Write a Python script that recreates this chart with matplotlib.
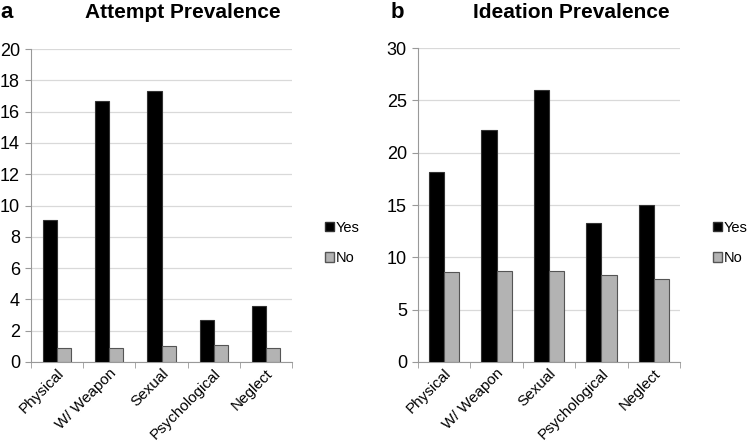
import numpy as np
import matplotlib.pyplot as plt
from matplotlib.patches import Patch

plt.rcParams['font.family'] = ['Liberation Sans', 'DejaVu Sans']

categories = ["Physical", "W/ Weapon", "Sexual", "Psychological", "Neglect"]

# Panel a: attempt prevalence
attempt_yes = [9.1, 16.7, 17.3, 2.7, 3.6]
attempt_no = [0.9, 0.9, 1.0, 1.1, 0.9]

# Panel b: ideation prevalence
ideation_yes = [18.2, 22.2, 26.0, 13.3, 15.0]
ideation_no = [8.6, 8.7, 8.7, 8.3, 7.9]

W, H = 747, 445
fig = plt.figure(figsize=(W / 100, H / 100), dpi=100)


def panel(rect, yes, no, ymax, ystep, bw, title, letter, title_x, letter_x, leg_x):
    ax = fig.add_axes(rect)
    x = np.arange(len(categories))
    ax.bar(x - bw / 2, yes, bw, color="black", edgecolor="#333333", linewidth=0.8, zorder=3)
    ax.bar(x + bw / 2, no, bw, color="#b3b3b3", edgecolor="#555555", linewidth=0.8, zorder=3)
    ax.set_xlim(-0.5, len(categories) - 0.5)
    ax.set_ylim(0, ymax)
    ax.set_yticks(np.arange(0, ymax + 0.1, ystep))
    ax.yaxis.grid(True, color="#d9d9d9", linewidth=0.9, zorder=0)
    ax.tick_params(axis="y", labelsize=13, length=4, color="#999999", pad=4)
    ax.set_xticks(x)
    ax.set_xticklabels(categories, rotation=45, ha="right",
                       rotation_mode="anchor", fontsize=11)
    ax.tick_params(axis="x", which="major", length=0, pad=3)
    ax.set_xticks(np.arange(-0.5, len(categories)), minor=True)
    ax.tick_params(axis="x", which="minor", length=4, color="#999999")
    for s in ["top", "right"]:
        ax.spines[s].set_visible(False)
    for s in ["left", "bottom"]:
        ax.spines[s].set_color("#999999")
    fig.text(title_x / W, 1 - 12 / H, title, fontsize=15, fontweight="bold", ha="center", va="center")
    fig.text(letter_x / W, 1 - 12 / H, letter, fontsize=16, fontweight="bold", ha="center", va="center")
    handles = [Patch(facecolor="black", edgecolor="#333333", label="Yes"),
               Patch(facecolor="#b3b3b3", edgecolor="#555555", label="No")]
    fig.legend(handles=handles, loc="upper left", bbox_to_anchor=(leg_x / W, 1 - 221 / H),
               frameon=False, fontsize=10.5, handlelength=0.6, handleheight=0.6,
               handletextpad=0.15, labelspacing=1.1, borderpad=0, borderaxespad=0)
    return ax


panel([31 / W, (H - 362) / H, 261 / W, 313 / H], attempt_yes, attempt_no, 20, 2, 0.27,
      "Attempt Prevalence", "a", 183, 7, 325)
panel([418 / W, (H - 362) / H, 262 / W, 314 / H], ideation_yes, ideation_no, 30, 5, 0.29,
      "Ideation Prevalence", "b", 571, 397, 713)

fig.savefig("out.png", dpi=100)
